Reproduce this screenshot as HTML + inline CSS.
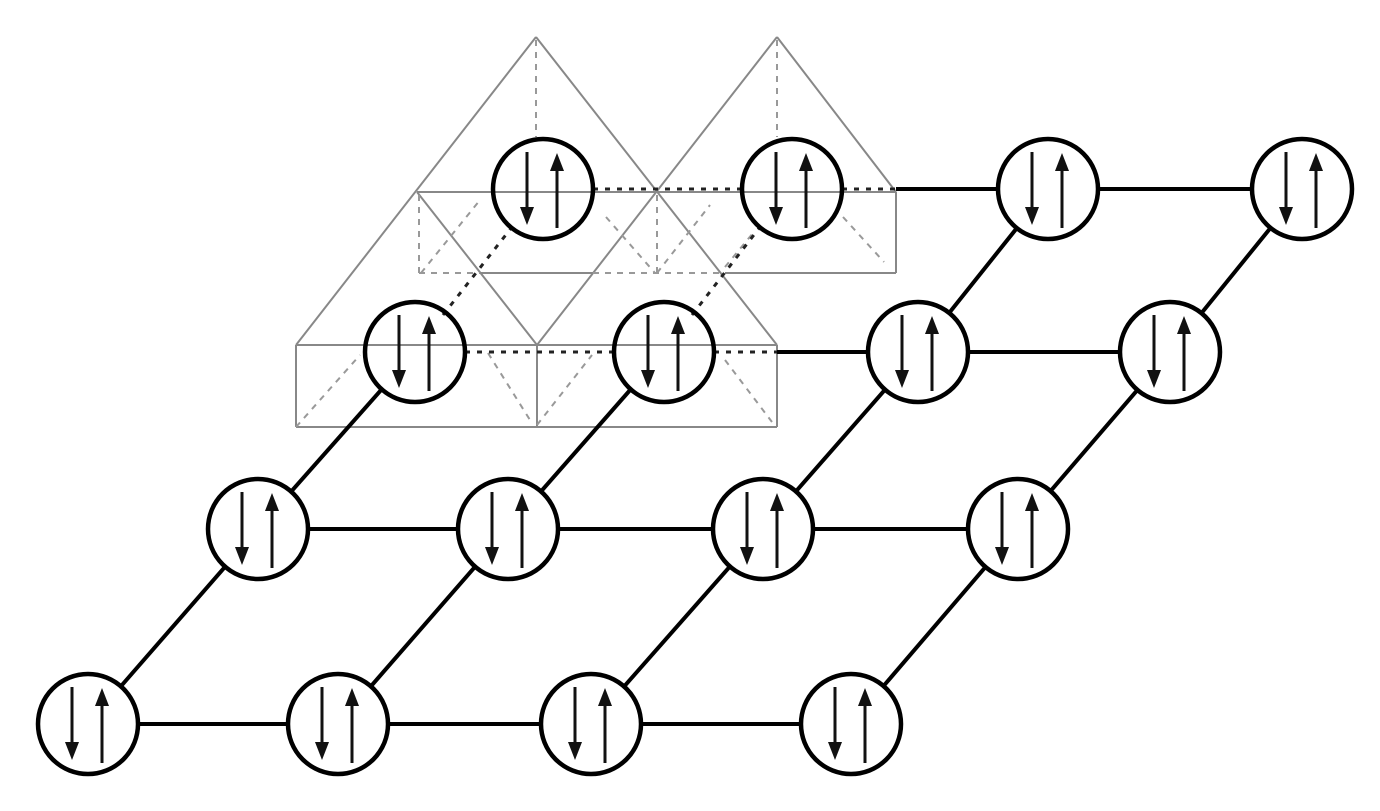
<!DOCTYPE html>
<html><head><meta charset="utf-8"><style>html,body{margin:0;padding:0;background:#fff;}svg{display:block}</style></head>
<body>
<svg width="1380" height="811" viewBox="0 0 1380 811" xmlns="http://www.w3.org/2000/svg">
<defs>
<g id="node">
  <circle cx="0" cy="0" r="50" fill="none" stroke="#000" stroke-width="4.5"/>
  <line x1="-16" y1="-37" x2="-16" y2="22" stroke="#111" stroke-width="3"/>
  <polygon points="-23,18 -9,18 -16,36" fill="#111"/>
  <line x1="14" y1="-18" x2="14" y2="39" stroke="#111" stroke-width="3"/>
  <polygon points="7,-18 21,-18 14,-36" fill="#111"/>
</g>
</defs>
<!-- pyramid structure gray -->
<g stroke="#888" stroke-width="2" fill="none">
  <line x1="536" y1="37" x2="296" y2="345"/>
  <line x1="536" y1="37" x2="777" y2="345"/>
  <line x1="777" y1="37" x2="537" y2="345"/>
  <line x1="777" y1="37" x2="896" y2="192"/>
  <line x1="417" y1="192" x2="537" y2="345"/>
  <line x1="417" y1="192" x2="896" y2="192"/>
  <line x1="896" y1="192" x2="896" y2="273"/>
  <line x1="480" y1="273" x2="593" y2="273"/>
  <line x1="725" y1="273" x2="896" y2="273"/>
  <line x1="296" y1="345" x2="777" y2="345"/>
  <line x1="296" y1="427" x2="777" y2="427"/>
  <line x1="296" y1="345" x2="296" y2="427"/>
  <line x1="537" y1="345" x2="537" y2="427"/>
  <line x1="777" y1="345" x2="777" y2="427"/>
</g>
<g stroke="#999" stroke-width="2" fill="none" stroke-dasharray="6,6">
  <line x1="536" y1="40" x2="536" y2="137"/>
  <line x1="777" y1="40" x2="777" y2="137"/>
  <line x1="419" y1="195" x2="419" y2="273"/>
  <line x1="657" y1="195" x2="657" y2="273"/>
  <line x1="419" y1="273" x2="480" y2="273"/>
  <line x1="593" y1="273" x2="725" y2="273"/>
  <line x1="421" y1="273" x2="480" y2="200"/>
  <line x1="606" y1="217" x2="655" y2="273"/>
  <line x1="657" y1="273" x2="710" y2="205"/>
  <line x1="725" y1="267" x2="753" y2="233"/>
  <line x1="843" y1="217" x2="884" y2="262"/>
  <line x1="296" y1="427" x2="360" y2="355"/>
  <line x1="488" y1="353" x2="530" y2="420"/>
  <line x1="537" y1="425" x2="592" y2="355"/>
  <line x1="725" y1="360" x2="772" y2="422"/>
</g>
<!-- hidden bonds dotted -->
<g stroke="#222" stroke-width="3" fill="none" stroke-dasharray="5,7">
  <line x1="593" y1="189" x2="742" y2="189"/>
  <line x1="842" y1="189" x2="896" y2="189"/>
  <line x1="465" y1="352" x2="614" y2="352"/>
  <line x1="714" y1="352" x2="777" y2="352"/>
  <line x1="443" y1="315" x2="512" y2="227"/>
  <line x1="692" y1="315" x2="760" y2="227"/>
</g>
<!-- visible bonds -->
<g stroke="#000" stroke-width="4" fill="none">
  <line x1="896" y1="189" x2="998" y2="189"/>
  <line x1="1098" y1="189" x2="1252" y2="189"/>
  <line x1="777" y1="352" x2="868" y2="352"/>
  <line x1="968" y1="352" x2="1120" y2="352"/>
  <line x1="258" y1="529" x2="508" y2="529"/>
  <line x1="508" y1="529" x2="763" y2="529"/>
  <line x1="763" y1="529" x2="1018" y2="529"/>
  <line x1="88" y1="724" x2="338" y2="724"/>
  <line x1="338" y1="724" x2="591" y2="724"/>
  <line x1="591" y1="724" x2="851" y2="724"/>
  <line x1="88" y1="724" x2="258" y2="529"/>
  <line x1="338" y1="724" x2="508" y2="529"/>
  <line x1="591" y1="724" x2="763" y2="529"/>
  <line x1="851" y1="724" x2="1018" y2="529"/>
  <line x1="258" y1="529" x2="382" y2="389"/>
  <line x1="508" y1="529" x2="631" y2="389"/>
  <line x1="763" y1="529" x2="918" y2="352"/>
  <line x1="1018" y1="529" x2="1170" y2="352"/>
  <line x1="918" y1="352" x2="1048" y2="189"/>
  <line x1="1170" y1="352" x2="1302" y2="189"/>
</g>
<!-- nodes -->
<g fill="#fff">
  <circle cx="88" cy="724" r="50"/><circle cx="338" cy="724" r="50"/><circle cx="591" cy="724" r="50"/><circle cx="851" cy="724" r="50"/>
  <circle cx="258" cy="529" r="50"/><circle cx="508" cy="529" r="50"/><circle cx="763" cy="529" r="50"/><circle cx="1018" cy="529" r="50"/>
  <circle cx="918" cy="352" r="50"/><circle cx="1170" cy="352" r="50"/>
  <circle cx="1048" cy="189" r="50"/><circle cx="1302" cy="189" r="50"/>
</g>
<use href="#node" x="88" y="724"/><use href="#node" x="338" y="724"/><use href="#node" x="591" y="724"/><use href="#node" x="851" y="724"/>
<use href="#node" x="258" y="529"/><use href="#node" x="508" y="529"/><use href="#node" x="763" y="529"/><use href="#node" x="1018" y="529"/>
<use href="#node" x="415" y="352"/><use href="#node" x="664" y="352"/><use href="#node" x="918" y="352"/><use href="#node" x="1170" y="352"/>
<use href="#node" x="543" y="189"/><use href="#node" x="792" y="189"/><use href="#node" x="1048" y="189"/><use href="#node" x="1302" y="189"/>
</svg>
</body></html>
